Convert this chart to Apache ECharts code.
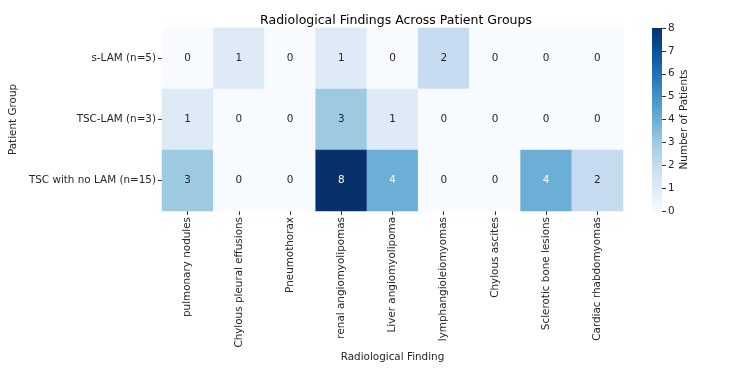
<!DOCTYPE html>
<html><head><meta charset="utf-8">
<script src="https://cdn.jsdelivr.net/npm/echarts@6/dist/echarts.min.js"></script>
<style>html,body{margin:0;padding:0;background:#fff}#c{width:750px;height:375px}</style>
</head><body><div id="c"></div>
<script>
var findings = ['pulmonary nodules','Chylous pleural effusions','Pneumothorax','renal angiomyolipomas','Liver angiomyolipoma','lymphangioleiomyomas','Chylous ascites','Sclerotic bone lesions','Cardiac rhabdomyomas'];
var groups = ['s-LAM (n=5)','TSC-LAM (n=3)','TSC with no LAM (n=15)'];
var sLAM = [0,1,0,1,0,2,0,0,0];
var tscLAM = [1,0,0,3,1,0,0,0,0];
var tscNoLAM = [3,0,0,8,4,0,0,4,2];

var palette = ['#f7fbff','#deebf7','#c6dbef','#9ecae1','#6baed6','#4292c6','#2171b5','#08519c','#08306b'];
var rows = [sLAM, tscLAM, tscNoLAM];
var data = [];
rows.forEach(function(r, j){ r.forEach(function(v, i){
  data.push({value:[i,j,v], label:{color: v>=4 ? '#ffffff' : '#262626'}});
});});
var font = 'DejaVu Sans';
var fs = 10.4;
var stops = palette.map(function(c, k){ return {offset: 1 - k/(palette.length-1), color: c}; }).reverse();
var chart = echarts.init(document.getElementById('c'));
chart.setOption({
  animation:false,
  textStyle:{fontFamily:font},
  title:{text:'Radiological Findings Across Patient Groups', left:391, top:9, textAlign:'center',
    textStyle:{fontFamily:font, fontSize:12.5, fontWeight:'normal', color:'#000'}},
  grid:[{left:160, top:28, width:463, height:183},
        {left:652, top:28, width:10, height:183}],
  xAxis:[{type:'category', data:findings, gridIndex:0, axisLine:{show:false},
    axisTick:{show:true, alignWithLabel:true, length:4, lineStyle:{color:'#333'}},
    axisLabel:{rotate:90, fontSize:fs, color:'#262626', fontFamily:font, margin:6, interval:0},
    splitArea:{show:false}, name:'Radiological Finding', nameLocation:'middle', nameGap:141,
    nameTextStyle:{fontSize:fs, color:'#262626', fontFamily:font}},
    {type:'value', gridIndex:1, show:false, min:0, max:1,
     axisLine:{show:false}, axisTick:{show:false}, axisLabel:{show:false}, splitLine:{show:false}}],
  yAxis:[{type:'category', data:groups, inverse:true, gridIndex:0, axisLine:{show:false},
    axisTick:{show:true, alignWithLabel:true, length:4, lineStyle:{color:'#333'}},
    axisLabel:{fontSize:fs, color:'#262626', fontFamily:font, margin:6},
    name:'Patient Group', nameLocation:'middle', nameGap:137,
    nameTextStyle:{fontSize:fs, color:'#262626', fontFamily:font}},
    {type:'value', gridIndex:1, position:'right', min:0, max:8, interval:1,
     axisLine:{show:false, onZero:false}, splitLine:{show:false},
     axisTick:{show:true, length:4, lineStyle:{color:'#333'}},
     axisLabel:{fontSize:fs, color:'#262626', fontFamily:font, margin:6},
     name:'Number of Patients', nameLocation:'middle', nameGap:17, nameRotate:90,
     nameTextStyle:{fontSize:fs, color:'#262626', fontFamily:font}}],
  visualMap:{type:'continuous', show:false, min:0, max:8, seriesIndex:0, inRange:{color:palette}},
  graphic:[{type:'rect', left:652, top:28, z:10, silent:true,
    shape:{width:10, height:183},
    style:{fill:new echarts.graphic.LinearGradient(0,0,0,1, stops)}}],
  series:[{type:'heatmap', xAxisIndex:0, yAxisIndex:0, data:data,
    label:{show:true, fontSize:fs, fontFamily:font},
    itemStyle:{borderWidth:0}, emphasis:{disabled:true}}]
});
</script></body></html>
